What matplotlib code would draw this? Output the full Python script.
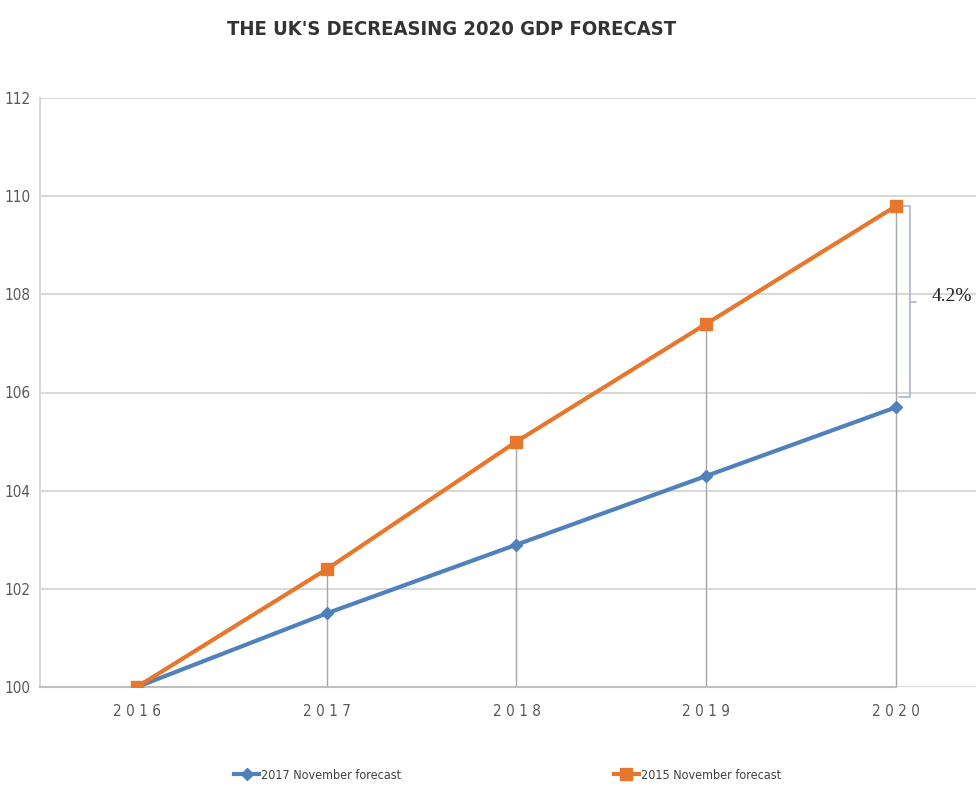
### UK 2020 GDP forecast line chart
###

import matplotlib.pyplot as plt

years = [2016, 2017, 2018, 2019, 2020]
forecast_2017 = [100.0, 101.5, 102.9, 104.3, 105.7]
forecast_2015 = [100.0, 102.4, 105.0, 107.4, 109.8]
y_ticks = [100, 102, 104, 106, 108, 110, 112]
gap_label = "4.2%"

narrow = dict(family='DejaVu Sans', stretch='condensed')
blue = '#4F81BD'
orange = '#E8772E'

fig = plt.figure(figsize=(9.76, 7.87), dpi=100)
ax = fig.add_axes([40 / 976, 100 / 787, 936 / 976, 589 / 787])

ax.set_xlim(2016 - 97 / 190, 2020 + 80 / 190)
ax.set_ylim(100, 112)

# drop lines from the 2015 forecast down to the axis
for x, y in zip(years[1:], forecast_2015[1:]):
    ax.plot([x, x], [100, y], color='#A6A6A6', lw=1, zorder=1)

ax.plot(years, forecast_2017, color=blue, lw=3, marker='D', markersize=6,
        label='2017 November forecast', zorder=3)
ax.plot(years, forecast_2015, color=orange, lw=3, marker='s', markersize=9,
        label='2015 November forecast', zorder=4)

ax.set_yticks(y_ticks)
ax.set_xticks(years)
ax.set_xticklabels([" ".join(str(y)) for y in years])
ax.grid(axis='y', color='#D9D9D9', lw=1.5)
ax.set_axisbelow(True)
ax.tick_params(length=0, labelsize=11, colors='#595959')
ax.tick_params(axis='y', pad=7)
ax.tick_params(axis='x', pad=12)
for lab in ax.get_xticklabels() + ax.get_yticklabels():
    lab.set_family(narrow['family'])
    lab.set_stretch(narrow['stretch'])

for side in ['top', 'right']:
    ax.spines[side].set_visible(False)
ax.spines['left'].set_color('#D9D9D9')
ax.spines['left'].set_linewidth(1.5)
ax.spines['bottom'].set_color('#BFBFBF')
ax.spines['bottom'].set_linewidth(1.5)
ax.spines['bottom'].set_bounds(ax.get_xlim()[0], 2020)

# bracket showing the gap in 2020
top, bot = forecast_2015[-1], forecast_2017[-1] + 0.2
bx = 2020 + 14 / 190
ax.plot([2020 + 3 / 190, bx, bx, 2020 + 3 / 190], [top, top, bot, bot],
        color='#A9B8CC', lw=1.2, clip_on=False, zorder=2)
mid = (top + bot) / 2
ax.plot([bx, bx + 6 / 190], [mid, mid], color='#A9B8CC', lw=1.2, zorder=2)
ax.text(bx + 22 / 190, mid + 0.1, gap_label, fontsize=14,
        family='Liberation Serif', va='center', ha='left', color='#222222')

fig.text(0.463, 0.962, "THE UK'S DECREASING 2020 GDP FORECAST", ha='center',
         va='center', fontsize=14.5, fontweight='bold', color='#333333', **narrow)

fig.legend(loc='center', bbox_to_anchor=(0.52, 0.015), ncol=2, frameon=False,
           columnspacing=17, handlelength=2.0, handletextpad=0.15,
           prop=dict(size=9, **narrow), labelcolor='#404040')

plt.savefig("out.png", dpi=100)
